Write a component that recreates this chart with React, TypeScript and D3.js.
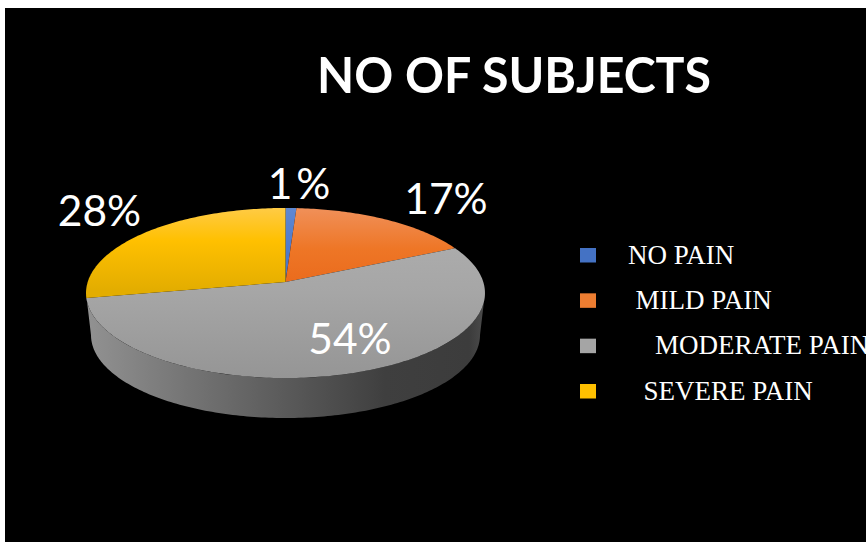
import React from "react";
import * as d3 from "d3";

// Share of subjects in each pain category, in percent.
const categories = ["NO PAIN", "MILD PAIN", "MODERATE PAIN", "SEVERE PAIN"];
const percentages = [1, 17, 54, 28];
const chartTitle = "NO OF SUBJECTS";

// Colour ramps running from the back of the disc to the front.
const sliceStops = [
  ["#5f88d2", "#4f7bcc", "#4270c2"],
  ["#f09059", "#ee7626", "#e9691b"],
  ["#b0b0b0", "#a6a6a6", "#959595"],
  ["#ffcb45", "#ffc000", "#e3ad00"],
];
const swatchColors = ["#4472c4", "#ed7d31", "#a5a5a5", "#ffc000"];

// Where each outside label and legend entry sits.
const labelPlacement = [
  { x: 301, y: 198.5, spacing: 4 },
  { x: 446, y: 213.5, spacing: 0 },
  { x: 350, y: 353.5, spacing: 0 },
  { x: 99.5, y: 225.5, spacing: 0 },
];
const legendTextX = [628, 635.5, 655, 643.5];

// Perspective disc: a unit circle tilted away from the viewer.
const CX = 285.5;
const TILT = 0.1294;
const RADIUS_X = 197.8;
const RADIUS_Y = 83.6;
const TOP_Y = 282;
const BOTTOM_Y = 324.4;
const BOTTOM_SCALE = 0.975;

type Pt = [number, number];

function project(theta: number, baseY = TOP_Y, scale = 1): Pt {
  const u = Math.sin(theta);
  const v = -Math.cos(theta);
  const w = 1 - TILT * v;
  return [CX + (scale * RADIUS_X * u) / w, baseY + (scale * RADIUS_Y * v) / w];
}

function sampleArc(start: number, end: number, baseY = TOP_Y, scale = 1): Pt[] {
  const steps = Math.max(4, Math.ceil(Math.abs(end - start) * 60));
  return d3.range(steps + 1).map((i) => project(start + ((end - start) * i) / steps, baseY, scale));
}

const toPath = d3.line<Pt>();

export default function App() {
  const slices = d3
    .pie<number>()
    .sort(null)
    .startAngle(0)
    .endAngle(2 * Math.PI)(percentages);

  const legendY = d3.scalePoint<string>().domain(categories).range([255, 391]);
  const rimStart = Math.acos(-TILT);
  const rimEnd = 2 * Math.PI - rimStart;
  const rim = [
    ...sampleArc(rimStart, rimEnd),
    ...sampleArc(rimStart, rimEnd, BOTTOM_Y, BOTTOM_SCALE).reverse(),
  ];

  return (
    <svg
      width={866}
      height={542}
      style={{ position: "fixed", left: 0, top: 0, display: "block", background: "#fff" }}
    >
      <defs>
        {sliceStops.map((stops, i) => (
          <linearGradient
            key={categories[i]}
            id={`slice-${i}`}
            gradientUnits="userSpaceOnUse"
            x1={0}
            x2={0}
            y1={208}
            y2={i === 2 ? 378 : 290}
          >
            {stops.map((c, j) => (
              <stop key={j} offset={j === 1 ? (i === 3 ? 0.4 : 0.5) : j / 2} stopColor={c} />
            ))}
          </linearGradient>
        ))}
        <linearGradient id="rim" gradientUnits="userSpaceOnUse" x1={86} x2={485} y1={0} y2={0}>
          <stop offset={0} stopColor="#929292" />
          <stop offset={0.25} stopColor="#757575" />
          <stop offset={0.5} stopColor="#5a5a5a" />
          <stop offset={0.75} stopColor="#3f3f3f" />
          <stop offset={0.96} stopColor="#3c3c3c" />
          <stop offset={1} stopColor="#4c4c4c" />
        </linearGradient>
      </defs>

      <rect x={5} y={8} width={861} height={534} fill="#000" />

      <text
        x={317}
        y={93}
        fill="#fff"
        fontFamily="Lato, sans-serif"
        fontWeight={700}
        fontSize={49}
        textLength={394}
        lengthAdjust="spacingAndGlyphs"
      >
        {chartTitle}
      </text>

      <path d={toPath(rim) + "Z"} fill="url(#rim)" />

      {slices.map((s, i) => (
        <path
          key={categories[i]}
          d={toPath([[CX, TOP_Y], ...sampleArc(s.startAngle, s.endAngle)]) + "Z"}
          fill={`url(#slice-${i})`}
        />
      ))}

      {slices.map((s, i) => (
        <text
          key={categories[i]}
          x={labelPlacement[i].x}
          y={labelPlacement[i].y}
          textAnchor="middle"
          fill="#fff"
          fontFamily="Lato, sans-serif"
          fontWeight={400}
          fontSize={42.5}
          letterSpacing={labelPlacement[i].spacing}
        >
          {`${s.value}%`}
        </text>
      ))}

      {categories.map((name, i) => {
        const y = legendY(name) as number;
        return (
          <g key={name}>
            <rect x={580} y={y - 7} width={16} height={14.5} fill={swatchColors[i]} />
            <text
              x={legendTextX[i]}
              y={y + 8.5}
              fill="#fff"
              fontFamily="'Liberation Serif', serif"
              fontSize={27}
            >
              {name}
            </text>
          </g>
        );
      })}
    </svg>
  );
}
